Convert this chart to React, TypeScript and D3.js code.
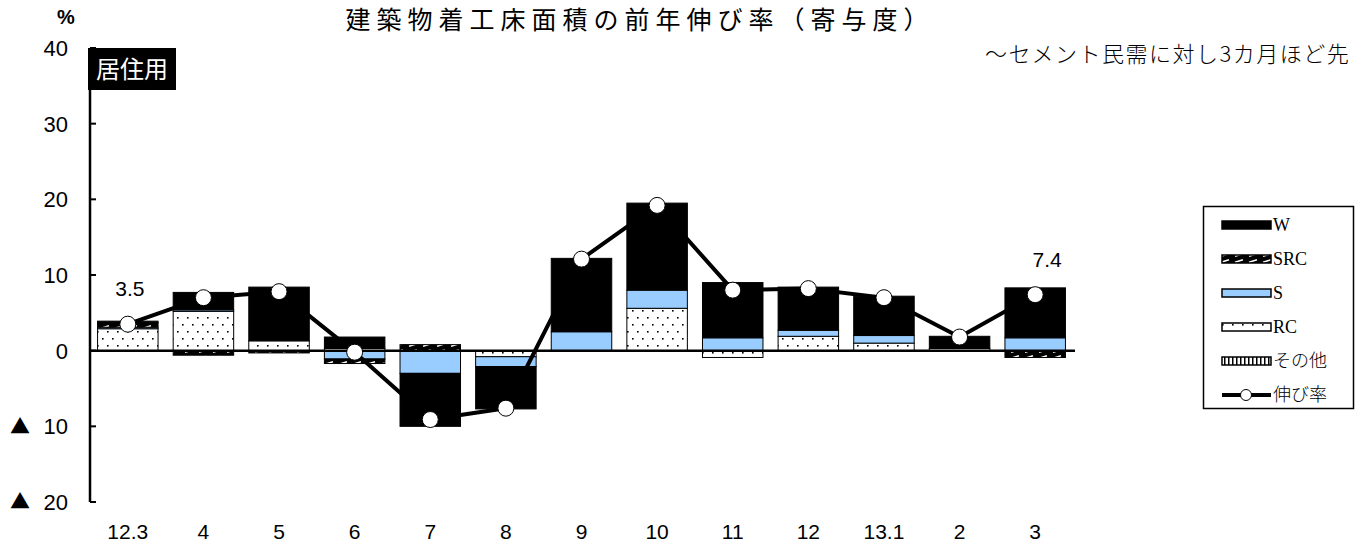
import React from "react";
import * as d3 from "d3";

const categories = ["12.3", "4", "5", "6", "7", "8", "9", "10", "11", "12", "13.1", "2", "3"];
const otherVals = [0, 0, 0, 0, 0, 0, 0, 0, 0, 0, 0, 0, 0];
const rcVals = [2.9, 5.2, 1.3, 0.3, 0, -0.8, 0, 5.6, -0.9, 1.9, 1.0, 0.3, 0];
const sVals = [0.2, 0.2, 0, -1.1, -3.0, -1.3, 2.5, 2.4, 1.7, 0.8, 1.0, 0, 1.7];
const srcVals = [0.6, -0.6, -0.3, -0.6, 0.8, 0, 0, 0, 0, 0, 0, 0, -0.9];
const wVals = [0.2, 2.3, 7.1, 1.5, -7.0, -5.6, 9.7, 11.5, 7.3, 5.7, 5.2, 1.6, 6.6];
const growth = [3.5, 7.0, 7.8, -0.2, -9.1, -7.6, 12.1, 19.2, 8.0, 8.2, 7.0, 1.8, 7.4];
const yTicks = [40, 30, 20, 10, 0, -10, -20];
const labeledIdx = [0, 12];

const seriesKeys = ["other", "rc", "s", "src", "w"];
const seriesFill: Record<string, string> = {
  other: "url(#patOther)",
  rc: "url(#patRC)",
  s: "#99CCFF",
  src: "url(#patSRC)",
  w: "#000000",
};
const legendItems = [
  { key: "w", label: "W" },
  { key: "src", label: "SRC" },
  { key: "s", label: "S" },
  { key: "rc", label: "RC" },
  { key: "other", label: "その他" },
];

const W = 1360;
const H = 546;
const jpFont = "'Noto Sans CJK JP', sans-serif";
const numFont = "'Liberation Sans', Arial, sans-serif";
const serifFont = "'Liberation Serif', 'Times New Roman', serif";

export default function App() {
  const x = d3.scaleBand<string>().domain(categories).range([90, 1073]).paddingInner(0.2).paddingOuter(0.1);
  const y = d3.scaleLinear().domain([-20, 40]).range([502, 48]);

  const rows = categories.map((c, i) => ({
    cat: c,
    other: otherVals[i],
    rc: rcVals[i],
    s: sVals[i],
    src: srcVals[i],
    w: wVals[i],
  }));
  const stacked = d3
    .stack<any>()
    .keys(seriesKeys)
    .offset(d3.stackOffsetDiverging)(rows);

  const cx = (c: string) => (x(c) as number) + x.bandwidth() / 2;
  const linePath = d3
    .line<number>()
    .x((_, i) => cx(categories[i]))
    .y((d) => y(d))(growth) as string;

  return (
    <svg width={W} height={H} style={{ position: "absolute", left: 0, top: 0, background: "#fff" }}>
      <defs>
        <pattern id="patRC" patternUnits="userSpaceOnUse" width="10" height="14">
          <rect width="10" height="14" fill="#fff" />
          <rect x="2" y="2" width="1.6" height="1.6" fill="#000" />
          <rect x="7" y="9" width="1.6" height="1.6" fill="#000" />
        </pattern>
        <pattern id="patSRC" patternUnits="userSpaceOnUse" width="14" height="6">
          <rect width="14" height="6" fill="#000" />
          <line x1="3" y1="4.2" x2="11" y2="1.8" stroke="#fff" strokeWidth="1.6" />
        </pattern>
        <pattern id="patOther" patternUnits="userSpaceOnUse" width="4" height="4">
          <rect width="4" height="4" fill="#fff" />
          <rect x="0" y="0" width="1.5" height="4" fill="#000" />
        </pattern>
      </defs>

      {/* title */}
      <text x={640} y={29} textAnchor="middle" fontFamily={jpFont} fontSize={25} fontWeight={400} letterSpacing={6} fill="#000">
        建築物着工床面積の前年伸び率（寄与度）
      </text>
      <text x={985} y={62} fontFamily={jpFont} fontSize={22} fontWeight={300} letterSpacing={1.5} fill="#000">
        ～セメント民需に対し3カ月ほど先
      </text>

      {/* y axis */}
      <text x={66} y={24} textAnchor="middle" fontFamily={numFont} fontSize={20} fontWeight="bold">%</text>
      {yTicks.map((t) => (
        <g key={t}>
          <line x1={90} x2={96} y1={y(t)} y2={y(t)} stroke="#000" strokeWidth={2} />
          {t < 0 && (
            <text x={20} y={y(t)} dy="0.36em" textAnchor="middle" fontFamily={jpFont} fontSize={20} fill="#000">
              ▲
            </text>
          )}
          <text
            x={68}
            y={y(t)}
            dy="0.36em"
            textAnchor="end"
            fontFamily={numFont}
            fontSize={22}
            fill="#000"
          >
            {String(Math.abs(t))}
          </text>
        </g>
      ))}
      <line x1={90} x2={90} y1={y(40)} y2={y(-20)} stroke="#000" strokeWidth={2.5} />

      {/* label box */}
      <rect x={88} y={48} width={88} height={42} fill="#000" />
      <text x={132} y={78} textAnchor="middle" fontFamily={jpFont} fontSize={24} fill="#fff">
        居住用
      </text>

      {/* bars */}
      {stacked.map((ser) => (
        <g key={ser.key}>
          {ser.map((d, i) => {
            const v0 = d[0];
            const v1 = d[1];
            if (Math.abs(v1 - v0) < 1e-9) return null;
            const top = y(Math.max(v0, v1));
            const bot = y(Math.min(v0, v1));
            return (
              <rect
                key={i}
                x={x(categories[i])}
                y={top}
                width={x.bandwidth()}
                height={bot - top}
                fill={seriesFill[ser.key]}
                stroke="#000"
                strokeWidth={1}
              />
            );
          })}
        </g>
      ))}

      {/* zero line */}
      <line x1={90} x2={1075} y1={y(0)} y2={y(0)} stroke="#000" strokeWidth={2.5} />

      {/* growth line */}
      <path d={linePath} fill="none" stroke="#000" strokeWidth={4} strokeLinejoin="round" />
      {growth.map((g, i) => (
        <circle key={i} cx={cx(categories[i])} cy={y(g)} r={8} fill="#fff" stroke="#000" strokeWidth={1} />
      ))}
      {labeledIdx.map((i) => (
        <text
          key={i}
          x={cx(categories[i]) + (i === 0 ? 2 : 12)}
          y={y(growth[i]) - 28}
          textAnchor="middle"
          fontFamily={numFont}
          fontSize={21}
        >
          {growth[i].toFixed(1)}
        </text>
      ))}

      {/* x labels */}
      {categories.map((c) => (
        <text key={c} x={cx(c)} y={539} textAnchor="middle" fontFamily={numFont} fontSize={21}>
          {c}
        </text>
      ))}

      {/* legend */}
      <rect x={1203.5} y={206.5} width={150} height={202} fill="#fff" stroke="#000" strokeWidth={1.5} />
      {legendItems.map((it, i) => {
        const ly = 225 + i * 34;
        return (
          <g key={it.key}>
            <rect x={1222} y={ly - 4} width={49} height={8} fill={seriesFill[it.key]} stroke="#000" strokeWidth={1.5} />
            <text
              x={1273}
              y={ly}
              dy="0.35em"
              fontFamily={it.label === "その他" ? jpFont : serifFont}
              fontWeight={it.label === "その他" ? 300 : 400}
              fontSize={18}
            >
              {it.label}
            </text>
          </g>
        );
      })}
      <line x1={1222} x2={1271} y1={395} y2={395} stroke="#000" strokeWidth={4} />
      <circle cx={1246} cy={395} r={5.5} fill="#fff" stroke="#000" strokeWidth={1} />
      <text x={1273} y={395} dy="0.35em" fontFamily={jpFont} fontWeight={300} fontSize={18}>
        伸び率
      </text>
    </svg>
  );
}
